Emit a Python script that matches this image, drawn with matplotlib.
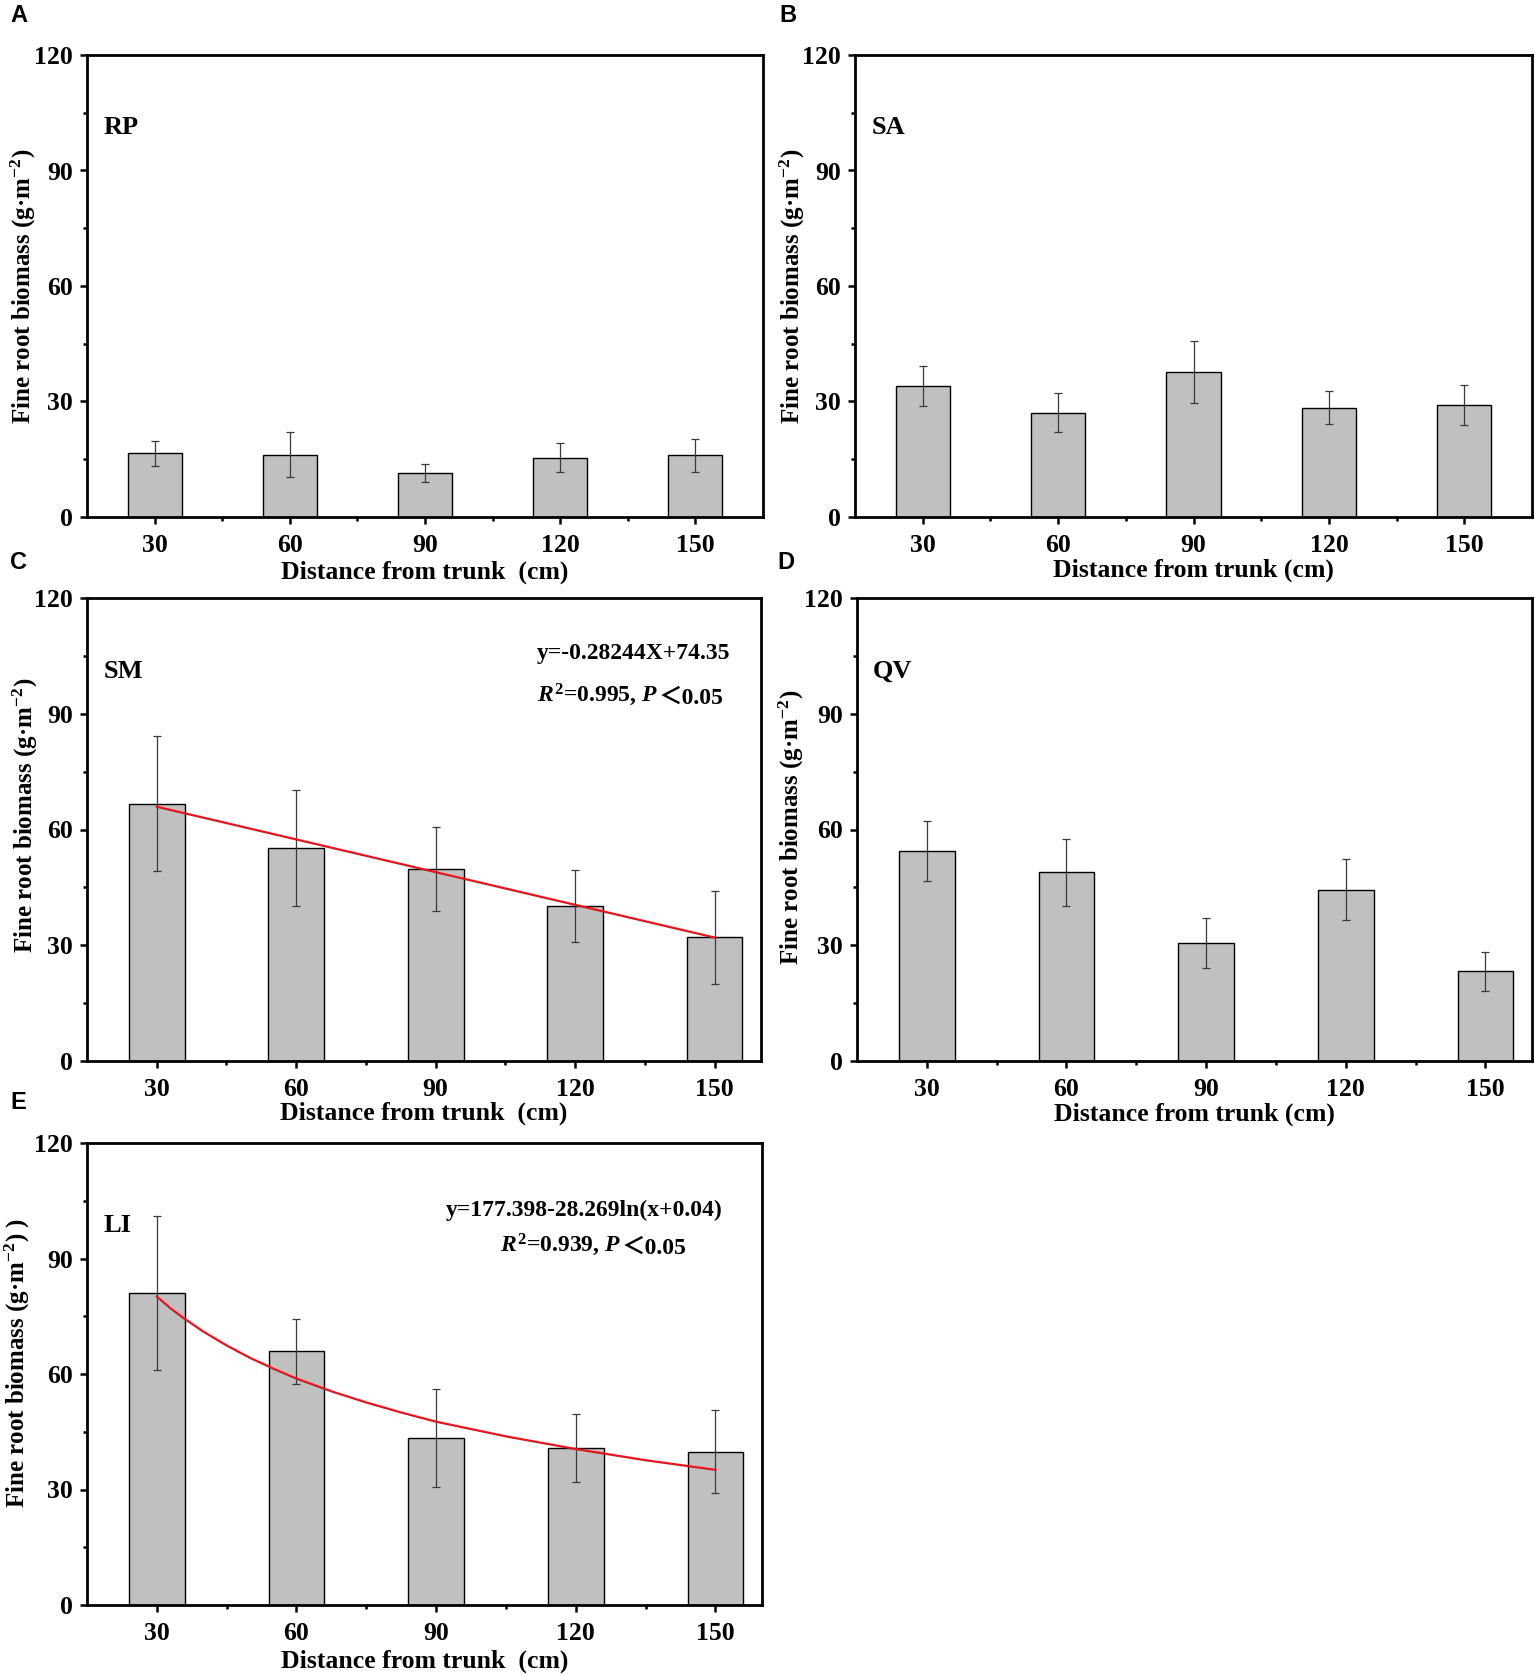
import numpy as np
import matplotlib
matplotlib.use("Agg")
import matplotlib.pyplot as plt
from matplotlib.ticker import FixedLocator

plt.rcParams['font.family'] = 'Liberation Serif'
plt.rcParams['font.weight'] = 'bold'
plt.rcParams['axes.labelweight'] = 'bold'
plt.rcParams['mathtext.fontset'] = 'custom'
plt.rcParams['mathtext.rm'] = 'Liberation Serif:bold'
plt.rcParams['mathtext.it'] = 'Liberation Serif:italic:bold'
plt.rcParams['mathtext.bf'] = 'Liberation Serif:bold'

# ---------------- data ----------------
distance = [30, 60, 90, 120, 150]

rp_mean = [16.6, 16.2, 11.4, 15.4, 16.0]
rp_sd = [3.25, 5.75, 2.3, 3.8, 4.2]

sa_mean = [34.0, 27.1, 37.6, 28.4, 29.1]
sa_sd = [5.15, 5.0, 8.05, 4.25, 5.1]

sm_mean = [66.7, 55.2, 49.8, 40.1, 32.1]
sm_sd = [17.45, 14.95, 10.85, 9.3, 12.05]
sm_fit_x = [30, 150]
sm_fit_y = [65.9, 32.0]

qv_mean = [54.4, 48.9, 30.5, 44.4, 23.2]
qv_sd = [7.8, 8.7, 6.45, 7.85, 5.05]

li_mean = [81.1, 65.9, 43.3, 40.7, 39.8]
li_sd = [20.0, 8.5, 12.7, 8.8, 10.75]
li_fit_x = [30, 33, 36, 40, 45, 50, 55, 60, 67.5, 75, 82.5, 90, 105, 120, 135, 150]
li_fit_y = [80.1, 77.0, 74.3, 71.0, 67.4, 64.2, 61.4, 58.8, 55.5, 52.6, 50.0, 47.6,
            43.8, 40.5, 37.6, 35.1]

y_ticks = [0, 30, 60, 90, 120]
y_minor = [15, 45, 75, 105]
x_minor = [45, 75, 105, 135]

# ---------------- figure ----------------
W, H = 1535, 1675
fig = plt.figure(figsize=(W / 100, H / 100), dpi=100)


def px_axes(x0, y0, x1, y1):
    ax = fig.add_axes([x0 / W, 1 - y1 / H, (x1 - x0) / W, (y1 - y0) / H])
    return ax, x1 - x0, y1 - y0


def panel(box, means, sds, name, name_y, xmax, xlabel, xlab_off, ylabel, ylab_off, ylab_y):
    ax, wpx, hpx = px_axes(*box)
    ax.bar(distance, means, width=12, color='#c0c0c0', edgecolor='black',
           linewidth=1.0, zorder=2)
    ax.errorbar(distance, means, yerr=sds, fmt='none', ecolor='#3a3a3a',
                elinewidth=0.9, capsize=3.2, capthick=0.9, zorder=3)
    ax.set_xlim(15, xmax)
    ax.set_ylim(0, 120)
    ax.set_xticks(distance)
    ax.set_yticks(y_ticks)
    ax.xaxis.set_minor_locator(FixedLocator(x_minor))
    ax.yaxis.set_minor_locator(FixedLocator(y_minor))
    ax.tick_params(which='major', direction='out', length=5, width=1.8,
                   labelsize=18.5, top=False, right=False)
    ax.tick_params(which='minor', direction='out', length=3, width=1.8,
                   top=False, right=False)
    ax.tick_params(axis='x', pad=7)
    ax.tick_params(axis='y', pad=5)
    for s in ax.spines.values():
        s.set_linewidth(2.0)
    ax.set_xlabel(xlabel, fontsize=18.5, fontweight='bold')
    ax.xaxis.set_label_coords(0.5, -xlab_off / hpx)
    ax.xaxis.label.set_va('center')
    ax.set_ylabel(ylabel, fontsize=18, fontweight='bold')
    ax.yaxis.set_label_coords(-ylab_off / wpx, ylab_y)
    ax.yaxis.label.set_va('center')
    ax.yaxis.label.set_ha('center')
    ax.text(0.024, name_y, name, transform=ax.transAxes, fontsize=19,
            ha='left', va='center')
    return ax


def stat_line(ax, x, y, head):
    # R2/P line: mathtext part followed by the full-width "<" part
    t1 = ax.text(x, y, head, transform=ax.transAxes, fontsize=17,
                 ha='left', va='center')
    ax.annotate('＜0.05', xy=(1, 0), xycoords=t1, va='bottom', ha='left',
                fontsize=17, fontweight='bold',
                family=['Liberation Serif', 'Noto Sans CJK SC'])


ylab = 'Fine root biomass (g·m$^{-2}$)'

ax_a = panel((87, 55, 763, 517), rp_mean, rp_sd, 'RP', 0.842, 165,
             'Distance from trunk  (cm)', 55, ylab, 64, 0.5)
ax_b = panel((855, 55, 1532, 517), sa_mean, sa_sd, 'SA', 0.842, 165,
             'Distance from trunk (cm)', 53, ylab, 63, 0.5)
ax_c = panel((87, 598, 761, 1061), sm_mean, sm_sd, 'SM', 0.842, 160,
             'Distance from trunk  (cm)', 52, ylab, 62, 0.53)
ax_d = panel((857, 598, 1532, 1061), qv_mean, qv_sd, 'QV', 0.842, 160,
             'Distance from trunk (cm)', 53, ylab, 66, 0.504)
ax_e = panel((87, 1143, 762, 1605), li_mean, li_sd, 'LI', 0.822, 160,
             'Distance from trunk  (cm)', 56, 'Fine root biomass (g·m$^{-2}$) )', 70, 0.524)

# fitted lines
ax_c.plot(sm_fit_x, sm_fit_y, color='#e8141c', lw=1.6, zorder=4)
ax_e.plot(li_fit_x, li_fit_y, color='#e8141c', lw=1.6, zorder=4)

ax_c.text(0.668, 0.881, 'y=-0.28244X+74.35', transform=ax_c.transAxes,
          fontsize=17, ha='left', va='center')
stat_line(ax_c, 0.668, 0.790, '$R^2$=0.995, $P$')

ax_e.text(0.532, 0.855, 'y=177.398-28.269ln(x+0.04)', transform=ax_e.transAxes,
          fontsize=17, ha='left', va='center')
stat_line(ax_e, 0.612, 0.779, r'$R^2$=$\mathit{0.939}$, $P$')

# panel letters
for letter, (lx, ly) in zip('ABCDE', [(10, 4), (779, 4), (10, 551), (777, 551), (10, 1091)]):
    fig.text(lx / W, 1 - ly / H, letter, fontsize=17, fontweight='bold',
             family='Liberation Sans', ha='left', va='top')

fig.savefig('out.png', dpi=100)
